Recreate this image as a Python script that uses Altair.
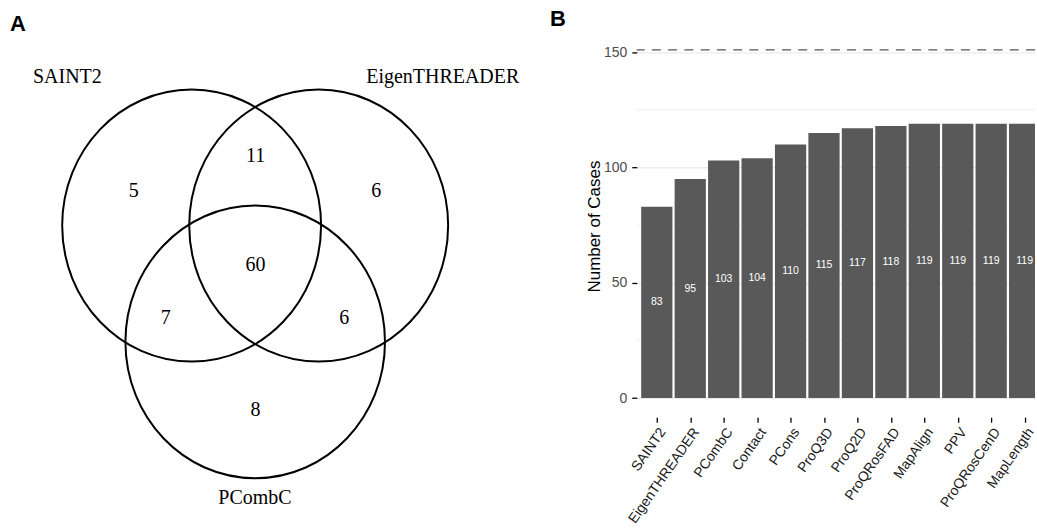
import json

import altair as alt
import pandas as pd

# ---- Panel A: three-set Venn diagram -------------------------------------
set_names = ["SAINT2", "EigenTHREADER", "PCombC"]
set_label_x = [67.5, 443.6, 255.4]
set_label_y = [76.3, 76.3, 498.0]
circle_cx = [192.0, 319.3, 255.7]
circle_cy = [225.5, 225.5, 342.0]
circle_h = [272.5, 272.5, 273.2]

region_counts = [5, 11, 6, 60, 7, 6, 8]
region_x = [134.0, 256.0, 377.0, 256.0, 166.0, 345.0, 256.0]
region_y = [191.0, 155.4, 191.0, 264.6, 318.6, 318.6, 410.7]

# ---- Panel B: number of cases per method ---------------------------------
methods = ["SAINT2", "EigenTHREADER", "PCombC", "Contact", "PCons", "ProQ3D",
           "ProQ2D", "ProQRosFAD", "MapAlign", "PPV", "ProQRosCenD", "MapLength"]
cases = [83, 95, 103, 104, 110, 115, 117, 118, 119, 119, 119, 119]
total_cases = [151]
major_ticks = [0, 50, 100, 150]
minor_ticks = [25, 75, 125]

SANS = "Liberation Sans"
SERIF = "Liberation Serif"

# Venn frame
VW, VH = 638, 531
vx = alt.Scale(domain=[0, VW], nice=False, zero=False)
vy = alt.Scale(domain=[0, VH], nice=False, zero=False, reverse=True)

circles_df = pd.DataFrame({"name": set_names, "cx": circle_cx, "cy": circle_cy, "h": circle_h})
circles_df["area"] = circles_df["h"] ** 2
labels_df = pd.DataFrame({"name": set_names, "x": set_label_x, "y": set_label_y})
regions_df = pd.DataFrame({"n": region_counts, "x": region_x, "y": region_y})

# slightly taller than wide, unit-sized outline
ellipse = "M 0 -1 A 0.952 1 0 1 1 0 1 A 0.952 1 0 1 1 0 -1 Z"

circles = alt.Chart(circles_df).mark_point(
    shape=ellipse, filled=False, color="black", strokeWidth=2, opacity=1
).encode(
    x=alt.X("cx:Q", scale=vx, axis=None),
    y=alt.Y("cy:Q", scale=vy, axis=None),
    size=alt.Size("area:Q", scale=None, legend=None),
)

set_labels = alt.Chart(labels_df).mark_text(
    font=SERIF, fontSize=20, color="black", align="center", baseline="middle"
).encode(
    x=alt.X("x:Q", scale=vx, axis=None),
    y=alt.Y("y:Q", scale=vy, axis=None),
    text="name:N",
)

region_labels = alt.Chart(regions_df).mark_text(
    font=SERIF, fontSize=20, color="black", align="center", baseline="middle"
).encode(
    x=alt.X("x:Q", scale=vx, axis=None),
    y=alt.Y("y:Q", scale=vy, axis=None),
    text="n:Q",
)

tag_a = alt.Chart(pd.DataFrame({"tag": ["A"]})).mark_text(
    font=SANS, fontSize=22, fontWeight="bold", color="black", align="center", baseline="alphabetic"
).encode(x=alt.value(18), y=alt.value(30.5), text="tag:N")

venn = alt.layer(circles, set_labels, region_labels, tag_a).properties(width=VW, height=VH)

# ---- bar chart -----------------------------------------------------------
bar_df = pd.DataFrame({"method": methods, "cases": cases, "idx": list(range(len(methods)))})
BAR_HALF = 0.467  # half of the bar width, in category steps

BH = 417.5
by = alt.Scale(domain=[-8.3, 172.4], nice=False, zero=False)
# categories sit at 0..n-1; the right end of the panel cuts the last bar
bx = alt.Scale(domain=[-0.599, 11.31], nice=False, zero=False)

name_expr = json.dumps(methods) + "[datum.value]"

x_axis = alt.Axis(
    values=list(range(len(methods))), labelExpr=name_expr,
    title=None, labelAngle=-55, labelAlign="right", labelBaseline="top",
    labelFont=SANS, labelFontSize=14, labelColor="#1a1a1a",
    labelPadding=3, labelOverlap=False, labelBound=False, labelFlush=False,
    ticks=True, tickColor="black", tickSize=5, tickWidth=1.3,
    domain=False, grid=False,
)

y_axis = alt.Axis(
    values=major_ticks, title="Number of Cases",
    titleFont=SANS, titleFontSize=17, titleFontWeight="normal", titleColor="black",
    titleAngle=270, titleX=-37, titleY=226, titleAlign="center", titleBaseline="alphabetic",
    labelFont=SANS, labelFontSize=14, labelColor="#4D4D4D", labelPadding=5,
    ticks=True, tickColor="black", tickSize=5, tickWidth=1.3,
    domain=False, grid=True, gridColor="#EBEBEB", gridWidth=1.4,
)

# every layer carries the same axis definitions so the merged axes agree
minor = alt.Chart(pd.DataFrame({"v": minor_ticks})).mark_rule(
    color="#EBEBEB", strokeWidth=0.8
).encode(y=alt.Y("v:Q", scale=by, axis=y_axis))

bars = alt.Chart(bar_df).transform_calculate(
    lo=f"datum.idx - {BAR_HALF}", hi=f"datum.idx + {BAR_HALF}"
).mark_bar(color="#595959", clip=True).encode(
    x=alt.X("lo:Q", scale=bx, axis=x_axis),
    x2="hi:Q",
    y=alt.Y("cases:Q", scale=by, axis=y_axis),
    y2=alt.datum(0),
)

dashed = alt.Chart(pd.DataFrame({"total": total_cases})).mark_rule(
    color="#555555", strokeWidth=1.4, strokeDash=[9, 7.3]
).encode(y=alt.Y("total:Q", scale=by, axis=y_axis))

values = alt.Chart(bar_df).transform_calculate(
    mid="datum.cases / 2"
).mark_text(font=SANS, fontSize=10.5, color="white", align="center", baseline="middle", clip=True).encode(
    x=alt.X("idx:Q", scale=bx, axis=x_axis),
    y=alt.Y("mid:Q", scale=by, axis=y_axis),
    text="cases:Q",
)

tag_b = alt.Chart(pd.DataFrame({"tag": ["B"]})).mark_text(
    font=SANS, fontSize=22, fontWeight="bold", color="black", align="center", baseline="alphabetic"
).encode(x=alt.value(-79), y=alt.value(26), text="tag:N")

bar_panel = alt.layer(minor, bars, dashed, values, tag_b).properties(width=399, height=BH)

chart = alt.hconcat(venn, bar_panel, spacing=0, bounds="flush").properties(
    padding=0
).configure_view(stroke=None)

chart.save("out.html", embed_options={"renderer": "svg", "actions": False})
